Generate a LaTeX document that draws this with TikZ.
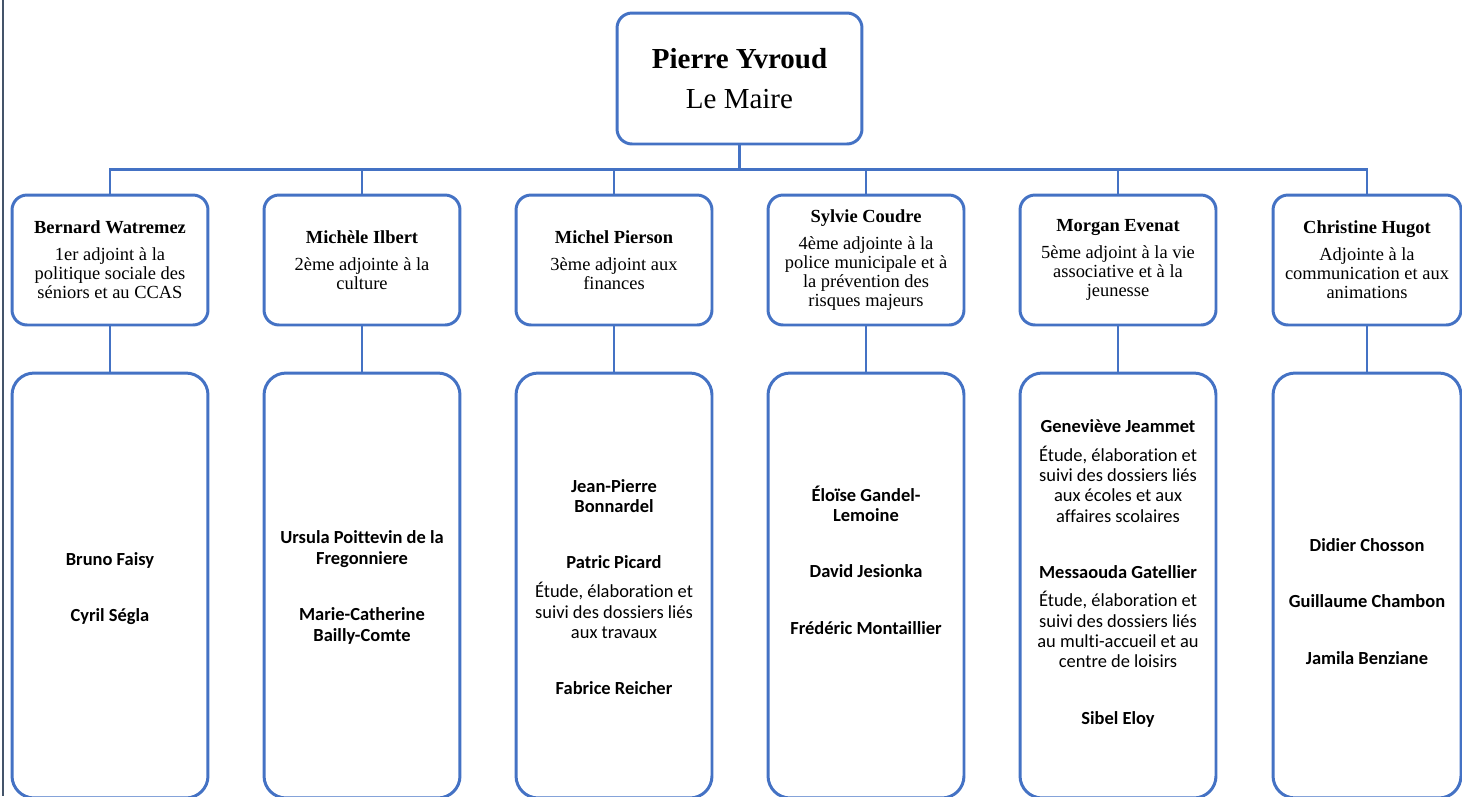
\documentclass[tikz,border=0pt]{standalone}
\usepackage{fontspec}
\setmainfont{Liberation Serif}
\newfontfamily\carlito[Ligatures=NoCommon]{Carlito}
\definecolor{boxblue}{HTML}{4472C4}
\definecolor{slate}{HTML}{44546A}

\begin{document}
\begin{tikzpicture}[x=0.02cm, y=-0.02cm,
  maire/.style={draw=boxblue, line width=1.7pt, rounded corners=0.3cm, minimum width=4.9cm, minimum height=2.62cm, align=center, font=\fontsize{16.5}{23.2}\selectfont},
  adjoint/.style={draw=boxblue, line width=1.7pt, rounded corners=0.3cm, minimum width=3.92cm, minimum height=2.6cm, align=center, inner sep=1pt, font=\fontsize{10.5}{10.8}\selectfont},
  equipe/.style={draw=boxblue, line width=1.7pt, rounded corners=0.44cm, minimum width=3.92cm, minimum height=8.5cm},
  noms/.style={align=center, font=\carlito\fontsize{10.5}{11.6}\selectfont},
  link/.style={draw=boxblue, line width=1.5pt}]
\useasboundingbox (0,0) rectangle (1462,796);
\draw[slate, line width=1.5pt] (3,0) -- (3,796);

\node[maire] at (739.5,78.5) (M) {\textbf{Pierre Yvroud}\\ Le Maire};

\node[adjoint] at (110,260) (A1) {\textbf{Bernard Watremez}\\[4.5pt] 1er adjoint à la\\ politique sociale des\\ séniors et au CCAS};
\node[adjoint] at (362,260) (A2) {\textbf{Michèle Ilbert}\\[4.5pt] 2ème adjointe à la\\ culture};
\node[adjoint] at (614,260) (A3) {\textbf{Michel Pierson}\\[4.5pt] 3ème adjoint aux\\ finances};
\node[adjoint] at (866,260) (A4) {\textbf{Sylvie Coudre}\\[4.5pt] 4ème adjointe à la\\ police municipale et à\\ la prévention des\\ risques majeurs};
\node[adjoint] at (1118,260) (A5) {\textbf{Morgan Evenat}\\[4.5pt] 5ème adjoint à la vie\\ associative et à la\\ jeunesse};
\node[adjoint, minimum width=3.76cm] at (1367,260) (A6) {\textbf{Christine Hugot}\\[4.5pt] Adjointe à la\\ communication et aux\\ animations};

\node[equipe] at (110,585.5) (E1) {};
\node[equipe] at (362,585.5) (E2) {};
\node[equipe] at (614,585.5) (E3) {};
\node[equipe] at (866,585.5) (E4) {};
\node[equipe] at (1118,585.5) (E5) {};
\node[equipe, minimum width=3.76cm] at (1367,585.5) (E6) {};

\node[noms] at (110,588.5) (N1) {\textbf{Bruno Faisy}\\[20.5pt] \textbf{Cyril Ségla}};
\node[noms] at (362,587.5) (N2) {\textbf{Ursula Poittevin de la}\\ \textbf{Fregonniere}\\[20.5pt] \textbf{Marie-Catherine}\\ \textbf{Bailly-Comte}};
\node[noms] at (614,587) (N3) {\textbf{Jean-Pierre}\\ \textbf{Bonnardel}\\[20.5pt] \textbf{Patric Picard}\\[4.8pt] Étude, élaboration et\\ suivi des dossiers liés\\ aux travaux\\[20.5pt] \textbf{Fabrice Reicher}};
\node[noms] at (866,560) (N4) {\textbf{Éloïse Gandel-}\\ \textbf{Lemoine}\\[20.5pt] \textbf{David Jesionka}\\[20.5pt] \textbf{Frédéric Montaillier}};
\node[noms] at (1118,573.5) (N5) {\textbf{Geneviève Jeammet}\\[4.5pt] Étude, élaboration et\\ suivi des dossiers liés\\ aux écoles et aux\\ affaires scolaires\\[20.5pt] \textbf{Messaouda Gatellier}\\[4.5pt] Étude, élaboration et\\ suivi des dossiers liés\\ au multi-accueil et au\\ centre de loisirs\\[20.5pt] \textbf{Sibel Eloy}};
\node[noms] at (1367,601.5) (N6) {\textbf{Didier Chosson}\\[20.5pt] \textbf{Guillaume Chambon}\\[20.5pt] \textbf{Jamila Benziane}};

\draw[link] (M.south) -- ++(0,24) -| (A1.north);
\draw[link] (M.south) -- ++(0,24) -| (A2.north);
\draw[link] (M.south) -- ++(0,24) -| (A3.north);
\draw[link] (M.south) -- ++(0,24) -| (A4.north);
\draw[link] (M.south) -- ++(0,24) -| (A5.north);
\draw[link] (M.south) -- ++(0,24) -| (A6.north);
\draw[link] (A1) -- (E1);
\draw[link] (A2) -- (E2);
\draw[link] (A3) -- (E3);
\draw[link] (A4) -- (E4);
\draw[link] (A5) -- (E5);
\draw[link] (A6) -- (E6);
\end{tikzpicture}
\end{document}
